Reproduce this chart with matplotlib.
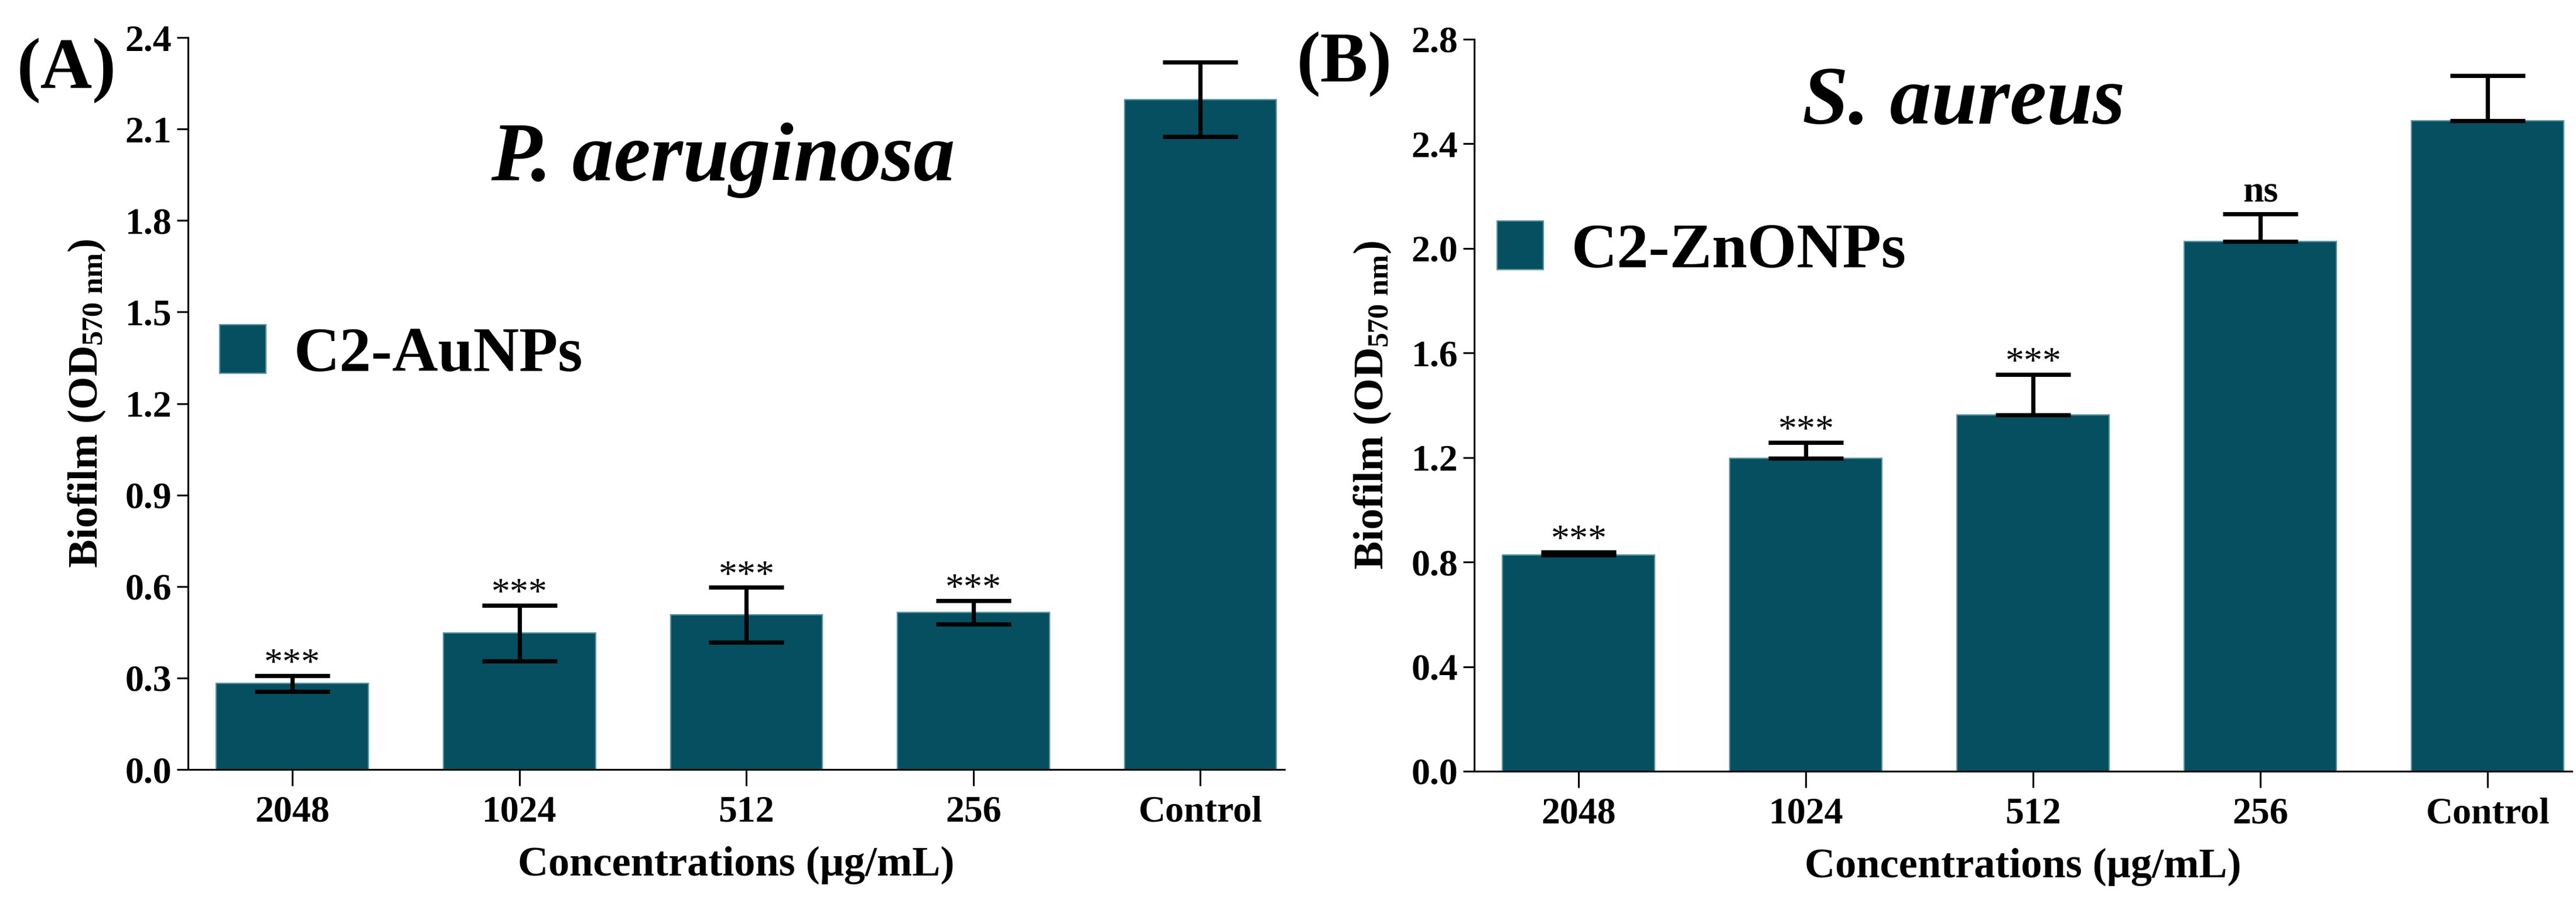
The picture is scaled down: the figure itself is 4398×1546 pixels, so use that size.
import matplotlib.pyplot as plt
import numpy as np

plt.rcParams['font.family'] = ['Liberation Serif', 'DejaVu Serif']
plt.rcParams['font.weight'] = 'bold'
plt.rcParams['mathtext.fontset'] = 'custom'
plt.rcParams['mathtext.rm'] = 'Liberation Serif:bold'
plt.rcParams['mathtext.it'] = 'Liberation Serif:italic:bold'
plt.rcParams['mathtext.bf'] = 'Liberation Serif:bold'

categories = ['2048', '1024', '512', '256', 'Control']

# panel A: P. aeruginosa, C2-AuNPs
au_mean = [0.282, 0.447, 0.507, 0.515, 2.197]
au_err = [0.026, 0.091, 0.090, 0.039, 0.122]
au_sig = ['***', '***', '***', '***', '']
au_yticks = [0.0, 0.3, 0.6, 0.9, 1.2, 1.5, 1.8, 2.1, 2.4]

# panel B: S. aureus, C2-ZnONPs
zn_mean = [0.827, 1.198, 1.362, 2.027, 2.489]
zn_err = [0.011, 0.060, 0.156, 0.104, 0.173]
zn_sig = ['***', '***', '***', 'ns', '']
zn_yticks = [0.0, 0.4, 0.8, 1.2, 1.6, 2.0, 2.4, 2.8]

bar_color = '#064f60'


def draw_panel(ax, means, errs, sigs, yticks, two_sided, species, title_pos,
               label, legend_pos):
    x = np.arange(len(categories))
    ax.bar(x, means, width=0.67, color=bar_color, edgecolor='#5d95a3',
           linewidth=0.8, label=label, zorder=2)
    errs = np.array(errs)
    if two_sided:
        yerr = errs
    else:
        yerr = [np.zeros_like(errs), errs]
    ax.errorbar(x, means, yerr=yerr, fmt='none', ecolor='black',
                elinewidth=2.6, capsize=23, capthick=2.6, zorder=3)

    for i, s in enumerate(sigs):
        if not s:
            continue
        top = means[i] + errs[i]
        if s == 'ns':
            ax.annotate(s, xy=(x[i], top), xytext=(0, 8), textcoords='offset points',
                        ha='center', va='baseline', fontsize=23, fontweight='bold')
        else:
            ax.annotate(s, xy=(x[i], top), xytext=(0, 1), textcoords='offset points',
                        ha='center', va='baseline', fontsize=23, fontweight='normal')

    ax.set_xlim(-0.46, 4.37)
    ax.set_ylim(0, yticks[-1])
    ax.set_yticks(yticks)
    ax.set_yticklabels(['%.1f' % t for t in yticks])
    ax.set_xticks(x)
    ax.set_xticklabels(categories)
    ax.spines['top'].set_visible(False)
    ax.spines['right'].set_visible(False)
    ax.spines['left'].set_linewidth(1.1)
    ax.spines['bottom'].set_linewidth(1.1)
    ax.tick_params(axis='y', direction='out', length=7, width=1.1, labelsize=23, pad=3)
    ax.tick_params(axis='x', direction='out', length=10, width=1.1, labelsize=23, pad=6)

    ax.set_ylabel('Biofilm (OD$_\\mathrm{570\\ nm}$)', fontsize=26, fontweight='bold')
    ax.yaxis.set_label_coords(-0.074, 0.5)
    ax.set_xlabel('Concentrations (\u03bcg/mL)', fontsize=26, fontweight='bold', labelpad=10)

    ax.text(title_pos[0], title_pos[1], species, transform=ax.transAxes,
            ha='center', va='baseline', fontsize=51, style='italic', fontweight='bold')

    ax.legend(loc='center left', bbox_to_anchor=legend_pos, frameon=False,
              prop={'size': 39, 'weight': 'bold'}, handlelength=0.73,
              handleheight=0.8, handletextpad=0.44, borderpad=0, borderaxespad=0)


fig = plt.figure(figsize=(21.99, 7.73), dpi=200)
ax_a = fig.add_axes([0.0730, 0.1507, 0.4256, 0.8079])
ax_b = fig.add_axes([0.5723, 0.1488, 0.4261, 0.8079])

draw_panel(ax_a, au_mean, au_err, au_sig, au_yticks, True,
           'P. aeruginosa', (0.488, 0.805), 'C2-AuNPs', (0.029, 0.567))
draw_panel(ax_b, zn_mean, zn_err, zn_sig, zn_yticks, False,
           'S. aureus', (0.4456, 0.885), 'C2-ZnONPs', (0.0208, 0.711))

fig.text(0.0066, 0.903, '(A)', fontsize=44, fontweight='bold', ha='left', va='baseline')
fig.text(0.5034, 0.910, '(B)', fontsize=44, fontweight='bold', ha='left', va='baseline')

fig.savefig('out.png', dpi=200)
